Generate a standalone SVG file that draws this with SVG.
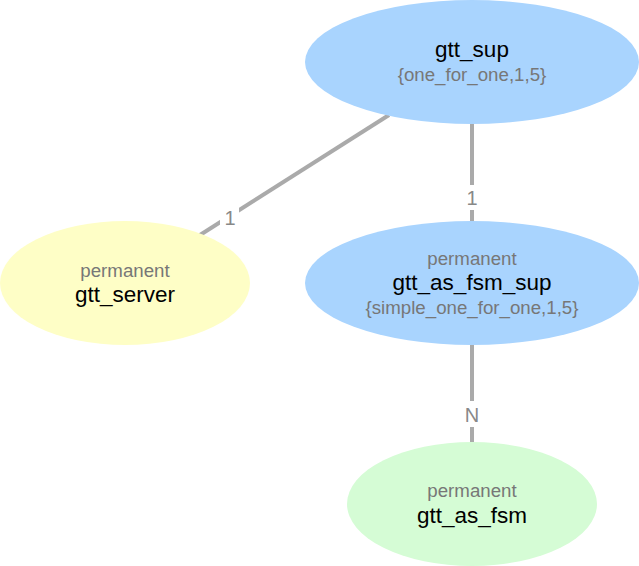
<svg xmlns="http://www.w3.org/2000/svg" width="639" height="566" viewBox="0 0 639 566">
<style>
text{font-family:"Liberation Sans",Arial,sans-serif;text-anchor:middle}
.name{font-size:22.5px;fill:#000}
.sub{font-size:18.7px;fill:#777}
.edge{stroke:#aaaaaa;stroke-width:4;fill:none}
.elabel{font-size:20px;fill:#888}
.blue{fill:#a9d4fe}
</style>
<rect width="639" height="566" fill="#fff"/>
<g id="connectors">
<line class="edge" x1="389" y1="115" x2="200" y2="235"/>
<rect x="220" y="205" width="19" height="24" fill="#fff"/>
<text class="elabel" x="230" y="225">1</text>
<line class="edge" x1="472" y1="124" x2="472" y2="221"/>
<rect x="462" y="185" width="20" height="25" fill="#fff"/>
<text class="elabel" x="472" y="205">1</text>
<line class="edge" x1="472" y1="345" x2="472" y2="442"/>
<rect x="462" y="401" width="20" height="26" fill="#fff"/>
<text class="elabel" x="472" y="422">N</text>
</g>
<g id="gtt_sup">
<ellipse class="blue" cx="472" cy="62" rx="167" ry="62"/>
<text class="name" x="472" y="57">gtt_sup</text>
<text class="sub" x="472" y="81">{one_for_one,1,5}</text>
</g>
<g id="gtt_server">
<ellipse cx="125" cy="283" rx="125" ry="62" fill="#fefec6"/>
<text class="sub" x="125" y="277">permanent</text>
<text class="name" x="125" y="302">gtt_server</text>
</g>
<g id="gtt_as_fsm_sup">
<ellipse class="blue" cx="472" cy="283" rx="167" ry="62"/>
<text class="sub" x="472" y="265">permanent</text>
<text class="name" x="472" y="290">gtt_as_fsm_sup</text>
<text class="sub" x="472" y="314">{simple_one_for_one,1,5}</text>
</g>
<g id="gtt_as_fsm">
<ellipse cx="472" cy="504" rx="125" ry="62" fill="#d5fcd5"/>
<text class="sub" x="472" y="497">permanent</text>
<text class="name" x="472" y="523">gtt_as_fsm</text>
</g>
</svg>
